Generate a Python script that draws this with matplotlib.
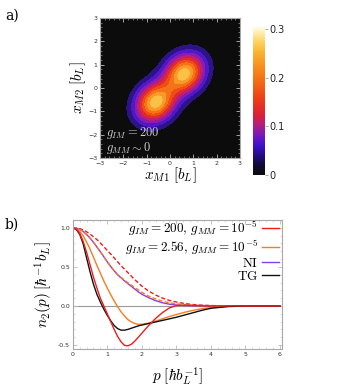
import numpy as np
import matplotlib
matplotlib.use("Agg")
import matplotlib.pyplot as plt
from matplotlib.colors import LinearSegmentedColormap
from matplotlib.ticker import MultipleLocator

plt.rcParams['mathtext.fontset'] = 'cm'
plt.rcParams['font.family'] = ['DejaVu Sans']

# ---------------- panel a: density description ----------
LOBE_XY = 0.62         # lobe centres at (+-0.62, +-0.62)
SIGMA_ALONG = 0.63     # width along the diagonal
SIGMA_ACROSS = 0.52    # width across the diagonal
LOBE_AMP = 0.285       # amplitude of each lobe
CBAR_TICKS = [0, 0.1, 0.2, 0.3]
CBAR_MAX = 0.308
LEVELS = [0.03, 0.06, 0.09, 0.12, 0.15, 0.18, 0.21, 0.24, 0.27, 0.30]
BAND_COLORS = ["#2c1488", "#5018c8", "#8a1cb0", "#c01e70", "#e22a2a",
               "#f04c18", "#f67216", "#f99a26", "#fcc048"]
AXIS_TICKS_A = [-3, -2, -1, 0, 1, 2, 3]

# ---------------- panel b: momentum distributions ----------------------------
p = [0, 0.1, 0.2, 0.3, 0.4, 0.5, 0.6, 0.7, 0.8, 0.9, 1.0, 1.1, 1.2, 1.3, 1.4,
     1.5, 1.6, 1.7, 1.8, 1.9, 2.0, 2.2, 2.4, 2.6, 2.8, 3.0, 3.25, 3.5, 3.75,
     4.0, 4.5, 5.0, 5.5, 6.0]
tg = [1.0, 0.98, 0.92, 0.80, 0.62, 0.44, 0.28, 0.15, 0.05, -0.04, -0.12,
      -0.19, -0.25, -0.29, -0.31, -0.31, -0.30, -0.285, -0.27, -0.255, -0.245,
      -0.225, -0.205, -0.185, -0.165, -0.145, -0.115, -0.085, -0.055, -0.03,
      -0.008, 0.0, 0.0, 0.0]
red_solid = [1.0, 0.985, 0.93, 0.83, 0.69, 0.53, 0.37, 0.23, 0.10, 0.0, -0.1,
             -0.2, -0.3, -0.39, -0.46, -0.505, -0.51, -0.49, -0.45, -0.40,
             -0.35, -0.25, -0.16, -0.085, -0.025, 0.005, 0.01, 0.005, 0.002,
             0.0, 0.0, 0.0, 0.0, 0.0]
red_dashed = [1.0, 0.998, 0.99, 0.975, 0.95, 0.92, 0.885, 0.85, 0.805, 0.76,
              0.71, 0.665, 0.615, 0.565, 0.515, 0.47, 0.425, 0.38, 0.335,
              0.295, 0.255, 0.19, 0.14, 0.10, 0.07, 0.05, 0.03, 0.017, 0.01,
              0.005, 0.001, 0.0, 0.0, 0.0]
orange_solid = [1.0, 0.99, 0.955, 0.90, 0.82, 0.73, 0.625, 0.52, 0.42, 0.32,
                0.23, 0.145, 0.065, -0.01, -0.075, -0.13, -0.175, -0.205,
                -0.225, -0.235, -0.235, -0.22, -0.195, -0.165, -0.135, -0.11,
                -0.08, -0.055, -0.035, -0.02, -0.005, 0.0, 0.0, 0.0]
orange_dashed = [1.0, 0.995, 0.98, 0.955, 0.915, 0.87, 0.815, 0.755, 0.695,
                 0.63, 0.565, 0.505, 0.45, 0.40, 0.365, 0.33, 0.295, 0.265,
                 0.235, 0.205, 0.175, 0.125, 0.09, 0.06, 0.04, 0.027, 0.015,
                 0.008, 0.004, 0.002, 0.0, 0.0, 0.0, 0.0]
ni = [1.0, 0.995, 0.98, 0.955, 0.915, 0.87, 0.815, 0.755, 0.695, 0.63, 0.565,
      0.505, 0.45, 0.40, 0.36, 0.32, 0.285, 0.25, 0.215, 0.18, 0.15, 0.105,
      0.068, 0.04, 0.022, 0.012, 0.005, 0.002, 0.001, 0.0, 0.0, 0.0, 0.0, 0.0]
legend_labels = [r"$g_{IM}=200,\, g_{MM}=10^{-5}$",
                 r"$g_{IM}=2.56,\, g_{MM}=10^{-5}$",
                 r"$\mathrm{NI}$", r"$\mathrm{TG}$"]
RED, ORANGE, PURPLE, BLACK = "#ee1c1c", "#fa7a1e", "#8a3ce6", "#111111"

FRAME = "#a8a8a8"
TICKLAB = "#333333"

fig = plt.figure(figsize=(3.47, 3.89), dpi=100)

# ---------- colormap (sunset-like) for the colour bar -------------
nodes = [(0.00, "#0c0c0c"), (0.06, "#120a30"), (0.13, "#240c88"),
         (0.20, "#4212d0"), (0.27, "#7a1ab8"), (0.33, "#b01e80"),
         (0.40, "#dc2038"), (0.50, "#ec3c18"), (0.62, "#f46a12"),
         (0.72, "#f88e1c"), (0.82, "#fbb432"), (0.90, "#fdd868"),
         (0.96, "#fff2c0"), (1.00, "#ffffff")]
cmap = LinearSegmentedColormap.from_list("sunset", nodes)

# ---------------- panel a ---------------
axa = fig.add_axes([100/347, 1-158/389, 140/347, 140/389])
g = np.linspace(-3, 3, 401)
X, Y = np.meshgrid(g, g)
U = (X + Y) / np.sqrt(2)
V = (Y - X) / np.sqrt(2)
uc = LOBE_XY * np.sqrt(2)
Z = LOBE_AMP * (np.exp(-(U - uc)**2 / (2*SIGMA_ALONG**2)) +
                np.exp(-(U + uc)**2 / (2*SIGMA_ALONG**2))) * \
    np.exp(-V**2 / (2*SIGMA_ACROSS**2))
axa.set_facecolor("#0c0c0c")
axa.contourf(X, Y, Z, levels=LEVELS, colors=BAND_COLORS)
axa.set_xlim(-3, 3)
axa.set_ylim(-3, 3)
axa.set_xticks(AXIS_TICKS_A)
axa.set_yticks(AXIS_TICKS_A)
axa.xaxis.set_minor_locator(MultipleLocator(0.2))
axa.yaxis.set_minor_locator(MultipleLocator(0.2))
axa.tick_params(which='both', direction='in', top=True, right=True,
                color="#bbbbbb", labelsize=4.5, labelcolor=TICKLAB, pad=2)
axa.tick_params(which='major', length=3, width=0.6)
axa.tick_params(which='minor', length=1.5, width=0.4)
for s in axa.spines.values():
    s.set_color(FRAME)
    s.set_linewidth(0.8)
axa.set_xlabel(r"$x_{M1}\;[b_L]$", fontsize=11, labelpad=0)
axa.set_ylabel(r"$x_{M2}\;[b_L]$", fontsize=11, labelpad=0)
axa.text(-2.75, -2.05, r"$g_{IM}=200$", color="#cfcfcf", fontsize=9)
axa.text(-2.75, -2.7, r"$g_{MM}\sim 0$", color="#cfcfcf", fontsize=9)

# colorbar
cax = fig.add_axes([253/347, 1-175/389, 12/347, 150/389])
grad = np.linspace(0, CBAR_MAX, 256).reshape(-1, 1)
cax.imshow(grad, aspect='auto', origin='lower', cmap=cmap,
           extent=[0, 1, 0, CBAR_MAX], vmin=0, vmax=CBAR_MAX)
cax.set_xticks([])
cax.yaxis.tick_right()
cax.set_yticks(CBAR_TICKS)
cax.set_yticklabels(["0", "0.1", "0.2", "0.3"])
cax.tick_params(axis='y', length=2, width=0.5, color="#888888",
                labelsize=7, labelcolor="#222222", pad=1.5)
for s in cax.spines.values():
    s.set_visible(False)

# ---------------- panel b ---------------
axb = fig.add_axes([72.7/347, 1-349.3/389, 209/347, 129.3/389])
axb.axhline(0, color="#999999", lw=0.8, zorder=1)
axb.plot(p, red_dashed, color=RED, lw=1.0, dashes=(3, 1.6))
axb.plot(p, ni, color=PURPLE, lw=1.0)
axb.plot(p, orange_dashed, color=ORANGE, lw=1.0, dashes=(3, 1.6))
axb.plot(p, orange_solid, color=ORANGE, lw=1.0)
axb.plot(p, tg, color=BLACK, lw=1.0)
axb.plot(p, red_solid, color=RED, lw=1.0)
axb.set_xlim(0, 6.05)
axb.set_ylim(-0.555, 1.10)
axb.set_xticks([0, 1, 2, 3, 4, 5, 6])
axb.set_yticks([-0.5, 0.0, 0.5, 1.0])
axb.set_yticklabels(["-0.5", "0.0", "0.5", "1.0"])
axb.xaxis.set_minor_locator(MultipleLocator(0.2))
axb.yaxis.set_minor_locator(MultipleLocator(0.1))
axb.tick_params(which='both', direction='in', top=True, right=True,
                color="#bbbbbb", labelsize=4.5, labelcolor=TICKLAB, pad=2)
axb.tick_params(which='major', length=3, width=0.6)
axb.tick_params(which='minor', length=1.5, width=0.4)
for s in axb.spines.values():
    s.set_color(FRAME)
    s.set_linewidth(0.8)
axb.set_xlabel(r"$p\;[\hbar b_L^{-1}]$", fontsize=11, labelpad=6)
axb.set_ylabel(r"$n_2(p)\;[\hbar^{-1} b_L]$", fontsize=11, labelpad=2)

handles = [plt.Line2D([], [], color=c, lw=1.0) for c in (RED, ORANGE, PURPLE, BLACK)]
axb.legend(handles, legend_labels, loc='upper right', markerfirst=False,
           frameon=False, fontsize=9.5, handlelength=1.3, handletextpad=0.3,
           labelspacing=0.0, borderaxespad=0.1, borderpad=0.1,
           bbox_to_anchor=(1.0, 1.03))

fig.text(5/347, 1-20/389, "a)", fontsize=10, family="DejaVu Serif")
fig.text(5/347, 1-229/389, "b)", fontsize=10, family="DejaVu Serif")

fig.savefig("out.png", dpi=100)
